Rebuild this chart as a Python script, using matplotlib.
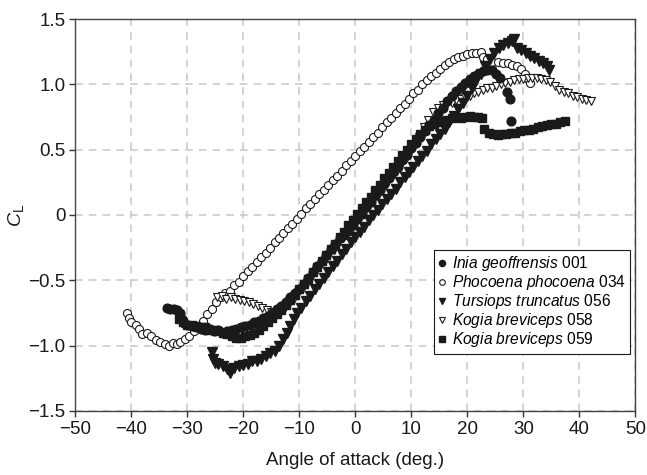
import matplotlib
matplotlib.use("Agg")
import matplotlib.pyplot as plt

plt.rcParams['font.family'] = ['Liberation Sans', 'DejaVu Sans']
plt.rcParams['mathtext.fontset'] = 'custom'
plt.rcParams['mathtext.rm'] = 'Liberation Sans'
plt.rcParams['mathtext.it'] = 'Liberation Sans:italic'

# Inia geoffrensis 001 (filled circles)
inia_x = [-33.6, -33.0, -32.4, -31.8, -31.2, -31.0, -30.6, -30.0, -29.2, -28.4, -27.6, -26.8,
          -26.0, -25.2, -24.4, -23.6, -22.8, -22.0, -21.2, -20.4, -19.6, -18.8, -18.0, -17.2,
          -16.4, -15.6, -14.8, -14.0, -13.2, -12.4, -11.6, -10.8, -10.0, -9.2, -8.4, -7.6,
          -6.8, -6.0, -5.2, -4.4, -3.6, -2.8, -2.0, -1.2, -0.4, 0.4, 1.2, 2.0, 2.8, 3.6, 4.4,
          5.2, 6.0, 6.8, 7.6, 8.4, 9.2, 10.0, 10.8, 11.6, 12.4, 13.2, 14.0, 14.8, 15.6, 16.4,
          17.2, 18.0, 18.8, 19.6, 20.4, 21.2, 22.0, 22.8, 23.6, 24.4, 25.2, 25.9, 27.1, 27.6,
          27.8]
inia_y = [-0.71, -0.72, -0.72, -0.73, -0.75, -0.80, -0.83, -0.84, -0.85, -0.86, -0.87, -0.88,
          -0.87, -0.89, -0.88, -0.90, -0.89, -0.88, -0.87, -0.86, -0.85, -0.84, -0.82, -0.81,
          -0.79, -0.77, -0.75, -0.72, -0.70, -0.67, -0.63, -0.60, -0.57, -0.53, -0.48, -0.44,
          -0.39, -0.35, -0.31, -0.26, -0.22, -0.18, -0.15, -0.12, -0.08, -0.03, 0.01, 0.06,
          0.10, 0.15, 0.19, 0.24, 0.28, 0.33, 0.37, 0.42, 0.46, 0.51, 0.55, 0.60, 0.64, 0.69,
          0.73, 0.78, 0.82, 0.87, 0.91, 0.95, 0.98, 1.01, 1.04, 1.06, 1.08, 1.10, 1.11, 1.11,
          1.08, 1.05, 0.94, 0.89, 0.72]

# Phocoena phocoena 034 (open circles)
phoc_x = [-40.7, -40.4, -40.0, -39.2, -38.6, -38.0, -37.2, -36.5, -35.6, -34.8, -34.0, -33.3,
          -32.6, -31.8, -31.2, -30.4, -29.6, -28.8, -28.0, -27.2, -26.4, -25.6, -24.8, -24.0,
          -23.2, -22.4, -21.6, -20.8, -20.0, -19.2, -18.4, -17.6, -16.8, -16.0, -15.2, -14.4,
          -13.6, -12.8, -12.0, -11.2, -10.4, -9.6, -8.8, -8.0, -7.2, -6.4, -5.6, -4.8, -4.0,
          -3.2, -2.4, -1.6, -0.8, 0.0, 0.8, 1.6, 2.4, 3.2, 4.0, 4.8, 5.6, 6.4, 7.2, 8.0, 8.8,
          9.6, 10.4, 11.2, 12.0, 12.8, 13.6, 14.4, 15.2, 16.0, 16.8, 17.6, 18.4, 19.2, 20.0,
          20.8, 21.6, 22.4, 22.8, 23.5, 24.4, 25.4, 26.3, 27.2, 28.0, 28.8, 29.6, 30.3, 30.8,
          31.2]
phoc_y = [-0.75, -0.79, -0.82, -0.84, -0.87, -0.91, -0.90, -0.93, -0.96, -0.97, -0.99, -1.00,
          -0.98, -0.99, -0.97, -0.95, -0.93, -0.89, -0.85, -0.81, -0.76, -0.72, -0.67, -0.63,
          -0.60, -0.58, -0.54, -0.51, -0.47, -0.43, -0.40, -0.36, -0.32, -0.29, -0.25, -0.21,
          -0.18, -0.14, -0.10, -0.07, -0.03, 0.01, 0.05, 0.08, 0.12, 0.16, 0.19, 0.23, 0.27,
          0.30, 0.34, 0.38, 0.41, 0.45, 0.49, 0.52, 0.56, 0.60, 0.63, 0.67, 0.71, 0.74, 0.78,
          0.82, 0.85, 0.89, 0.93, 0.96, 1.00, 1.03, 1.06, 1.09, 1.12, 1.15, 1.17, 1.19, 1.21,
          1.22, 1.23, 1.24, 1.24, 1.25, 1.21, 1.19, 1.17, 1.17, 1.16, 1.16, 1.15, 1.14, 1.12,
          1.08, 1.04, 1.01]

# Tursiops truncatus 056 (filled down triangles)
turs_x = [-25.5, -25.4, -25.0, -24.4, -23.6, -22.8, -22.4, -21.6, -20.8, -20.0, -19.2, -18.4,
          -17.6, -16.8, -16.0, -15.2, -14.4, -13.6, -12.8, -12.2, -11.6, -11.0, -10.4, -9.6,
          -8.8, -8.0, -7.2, -6.4, -5.6, -4.8, -4.0, -3.2, -2.4, -1.6, -0.8, 0.0, 0.8, 1.6,
          2.4, 3.2, 4.0, 4.8, 5.6, 6.4, 7.2, 8.0, 8.8, 9.6, 10.4, 11.2, 12.0, 12.8, 13.6,
          14.4, 15.2, 16.0, 16.8, 17.6, 18.4, 19.2, 20.0, 20.8, 21.6, 22.4, 23.2, 24.0, 24.8,
          25.6, 26.4, 27.2, 28.0, 28.4, 28.9, 29.6, 30.4, 31.2, 32.0, 32.8, 33.6, 34.3, 34.6]
turs_y = [-1.05, -1.10, -1.13, -1.14, -1.16, -1.18, -1.21, -1.17, -1.16, -1.15, -1.14, -1.12,
          -1.12, -1.10, -1.08, -1.06, -1.04, -1.00, -0.95, -0.90, -0.85, -0.80, -0.75, -0.71,
          -0.66, -0.62, -0.57, -0.53, -0.48, -0.44, -0.39, -0.35, -0.30, -0.26, -0.21, -0.17,
          -0.13, -0.09, -0.04, 0.00, 0.04, 0.08, 0.12, 0.16, 0.20, 0.25, 0.29, 0.33, 0.37,
          0.41, 0.45, 0.49, 0.54, 0.58, 0.62, 0.66, 0.71, 0.76, 0.81, 0.86, 0.91, 0.97, 1.03,
          1.08, 1.14, 1.19, 1.24, 1.28, 1.30, 1.32, 1.33, 1.35, 1.28, 1.26, 1.24, 1.22, 1.20,
          1.18, 1.16, 1.14, 1.11]

# Kogia breviceps 058 (open down triangles)
kog58_x = [-24.6, -23.8, -23.0, -22.2, -21.4, -20.6, -19.8, -19.0, -18.2, -17.4, -16.6, -15.8,
           -15.0, -14.2, -13.4, -12.6, -11.8, -11.0, -10.2, -9.4, -8.6, -7.8, -7.0, -6.2, -5.4,
           -4.6, -3.8, -3.0, -2.2, -1.4, -0.6, 0.2, 1.0, 1.8, 2.6, 3.4, 4.2, 5.0, 5.8, 6.6, 7.4,
           8.2, 9.0, 9.8, 10.6, 11.4, 12.2, 13.0, 13.9, 14.8, 15.6, 16.4, 17.2, 18.0, 18.8,
           19.6, 20.4, 21.2, 22.0, 22.8, 23.6, 24.4, 25.2, 26.0, 26.8, 27.6, 28.4, 29.2, 30.0,
           30.8, 31.6, 32.4, 33.2, 34.0, 34.8, 35.6, 36.4, 37.2, 38.0, 38.8, 39.6, 40.4, 41.2,
           42.0]
kog58_y = [-0.63, -0.62, -0.64, -0.63, -0.64, -0.65, -0.66, -0.67, -0.68, -0.70, -0.71, -0.73,
           -0.74, -0.74, -0.73, -0.71, -0.68, -0.64, -0.60, -0.56, -0.52, -0.48, -0.43, -0.39,
           -0.35, -0.31, -0.27, -0.22, -0.18, -0.14, -0.10, -0.05, -0.01, 0.03, 0.08, 0.12,
           0.16, 0.21, 0.25, 0.29, 0.34, 0.38, 0.43, 0.48, 0.54, 0.60, 0.67, 0.73, 0.79, 0.82,
           0.84, 0.85, 0.86, 0.88, 0.89, 0.90, 0.91, 0.93, 0.94, 0.96, 0.97, 0.97, 0.99, 1.00,
           1.01, 1.02, 1.03, 1.04, 1.04, 1.05, 1.05, 1.05, 1.04, 1.03, 1.02, 0.99, 0.96, 0.94,
           0.93, 0.91, 0.90, 0.89, 0.88, 0.87]

# Kogia breviceps 059 (filled squares)
kog59_x = [-31.5, -30.8, -30.0, -29.2, -28.4, -27.6, -26.8, -26.0, -25.2, -24.4, -23.6, -22.8,
           -22.0, -21.2, -20.4, -19.6, -18.8, -18.0, -17.2, -16.4, -15.6, -14.8, -14.0, -13.2,
           -12.4, -11.6, -10.8, -10.0, -9.2, -8.4, -7.6, -6.8, -6.0, -5.2, -4.4, -3.6, -2.8,
           -2.0, -1.2, -0.4, 0.4, 1.2, 2.0, 2.8, 3.6, 4.4, 5.2, 6.0, 6.8, 7.6, 8.4, 9.2, 10.0,
           10.8, 11.6, 12.4, 13.2, 14.0, 14.8, 15.6, 16.4, 17.2, 18.0, 18.8, 19.6, 20.4, 21.2,
           22.0, 22.6, 23.0, 23.8, 24.6, 25.4, 26.2, 27.0, 27.8, 28.6, 29.4, 30.2, 31.0, 31.8,
           32.6, 33.4, 34.2, 35.0, 35.8, 36.6, 37.4]
kog59_y = [-0.80, -0.82, -0.84, -0.84, -0.85, -0.86, -0.86, -0.88, -0.88, -0.89, -0.90, -0.91,
           -0.93, -0.94, -0.94, -0.93, -0.92, -0.90, -0.88, -0.85, -0.82, -0.79, -0.76, -0.73,
           -0.69, -0.65, -0.61, -0.57, -0.53, -0.49, -0.44, -0.40, -0.35, -0.31, -0.26, -0.22,
           -0.17, -0.13, -0.08, -0.04, 0.01, 0.05, 0.10, 0.14, 0.19, 0.23, 0.28, 0.32, 0.37,
           0.41, 0.46, 0.50, 0.54, 0.58, 0.62, 0.65, 0.68, 0.70, 0.71, 0.72, 0.73, 0.74, 0.75,
           0.74, 0.75, 0.76, 0.75, 0.75, 0.74, 0.66, 0.63, 0.62, 0.61, 0.62, 0.62, 0.63, 0.63,
           0.64, 0.65, 0.65, 0.66, 0.67, 0.68, 0.69, 0.70, 0.70, 0.71, 0.72]

ink = '#1a1a1a'

fig = plt.figure(figsize=(6.47, 4.75), dpi=100)
ax = fig.add_axes([0.116, 0.135, 0.866, 0.825])

ax.plot(phoc_x, phoc_y, 'o', ms=5.8, mfc='white', mec=ink, mew=0.8,
        label=r'$\it{Phocoena\ phocoena}$ 034', zorder=3)
ax.plot(kog58_x, kog58_y, 'v', ms=6.3, mfc='white', mec=ink, mew=0.8,
        label=r'$\it{Kogia\ breviceps}$ 058', zorder=3)
ax.plot(inia_x, inia_y, 'o', ms=6.3, mfc=ink, mec=ink,
        label=r'$\it{Inia\ geoffrensis}$ 001', zorder=4)
ax.plot(kog59_x, kog59_y, 's', ms=5.8, mfc=ink, mec=ink,
        label=r'$\it{Kogia\ breviceps}$ 059', zorder=4)
ax.plot(turs_x, turs_y, 'v', ms=6.8, mfc=ink, mec=ink,
        label=r'$\it{Tursiops\ truncatus}$ 056', zorder=4)

ax.set_xlim(-50, 50)
ax.set_ylim(-1.5, 1.5)
ax.set_xticks(range(-50, 51, 10))
ax.set_yticks([-1.5, -1.0, -0.5, 0, 0.5, 1.0, 1.5])
ax.set_yticklabels(['\u22121.5', '\u22121.0', '\u22120.5', '0', '0.5', '1.0', '1.5'])
ax.tick_params(labelsize=13.5, direction='out', length=4, width=1, color='#333333',
               labelcolor=ink, pad=3)

ax.grid(True, color='#c8c8c8', linestyle=(0, (5, 4)), linewidth=1.1)
ax.set_axisbelow(True)
for s in ax.spines.values():
    s.set_color('#444444')
    s.set_linewidth(1.0)

ax.set_xlabel('Angle of attack (deg.)', fontsize=13.5, color=ink)
ax.xaxis.set_label_coords(0.5, -0.105)
ax.set_ylabel(r'$C_{\mathrm{L}}$', fontsize=14, color=ink)
ax.yaxis.set_label_coords(-0.088, 0.5)

# legend order as in the reference
h, l = ax.get_legend_handles_labels()
order = [2, 0, 4, 1, 3]
leg = ax.legend([h[i] for i in order], [l[i] for i in order], loc='lower right',
                bbox_to_anchor=(0.991, 0.145), borderaxespad=0, fontsize=11.2,
                markerscale=0.7, handlelength=0.5, handletextpad=0.35,
                labelspacing=0.0, borderpad=0.3, frameon=True, fancybox=False,
                framealpha=1)
leg.get_frame().set_edgecolor(ink)
leg.get_frame().set_linewidth(0.8)

fig.savefig('out.png', dpi=100)
